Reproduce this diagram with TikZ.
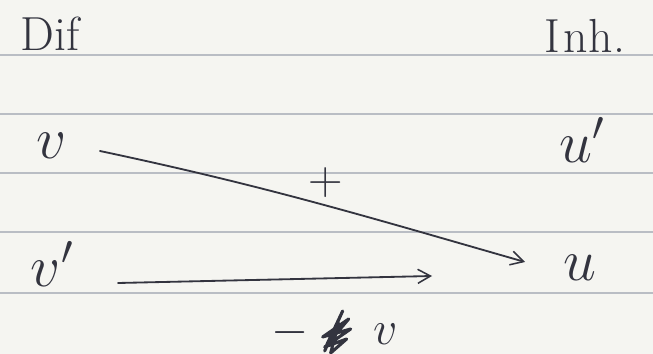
\documentclass[tikz,border=0pt]{standalone}
\usepackage{fix-cm}
\usepackage{tikz}
\usetikzlibrary{arrows.meta, positioning, calc}
\definecolor{noteInk}{HTML}{33343F}
\definecolor{notePaper}{HTML}{F5F5F1}
\definecolor{noteRule}{HTML}{B9BDC4}

\begin{document}
\begin{tikzpicture}[
        x=0.025cm,
        y=-0.025cm,
        >={Straight Barb[length=9pt, width=10pt, line width=1.1pt]},
        head/.style={text=noteInk, inner sep=1pt, font=\fontsize{34}{36}\selectfont},
        term/.style={text=noteInk, inner sep=1pt, font=\fontsize{42}{44}\selectfont},
        sign/.style={text=noteInk, inner sep=1pt, font=\fontsize{34}{36}\selectfont},
        rule/.style={draw=noteRule, line width=1.2pt},
        arrow/.style={->, draw=noteInk, line width=1.3pt, line cap=round}
    ]

    % Paper and ruling
    \fill[notePaper] (0,0) rectangle (653,354);
    \useasboundingbox (0,0) rectangle (653,354);
    \foreach \y in {55,114,173,232,293}
        \draw[rule] (0,\y) -- (653,\y);

    % Column headings
    \node[head] (dif) at (50,34) {Dif};
    \node[head] (inh) at (585,36) {I\kern2pt n\kern1pt h.};

    % Terms
    \node[term] (v)      at (52,146)  {$v$};
    \node[term] (uprime) at (582,140) {$u'$};
    \node[term] (vprime) at (52,264)  {$v'$};
    \node[term] (u)      at (580,268) {$u$};

    % Connectors
    \coordinate (vstart) at (100,151);
    \coordinate (uend)   at (525,262);
    \draw[arrow] (vstart) to[out=-12, in=164]
        node[pos=0.53, above=4pt, sign] (plus) {$+$} (uend);
    \coordinate (vpstart) at (118,283);
    \coordinate (vpend)   at (432,276);
    \draw[arrow] (vpstart) -- (vpend)
        node[pos=0.69, below=26pt, sign] (minus) {$-\;\hspace{0.9em}\,v$};

    % Crossed-out letter
    \draw[noteInk, line width=2.2pt, line cap=round, line join=round]
        ($(minus.center)+(-10,18)$) -- ($(minus.center)+(8,-22)$)
        -- ($(minus.center)+(-8,12)$) -- ($(minus.center)+(14,-14)$)
        -- ($(minus.center)+(-12,4)$) -- ($(minus.center)+(16,-4)$)
        -- ($(minus.center)+(-10,14)$) -- ($(minus.center)+(12,6)$)
        -- ($(minus.center)+(-4,20)$) -- ($(minus.center)+(4,-10)$);
\end{tikzpicture}
\end{document}
